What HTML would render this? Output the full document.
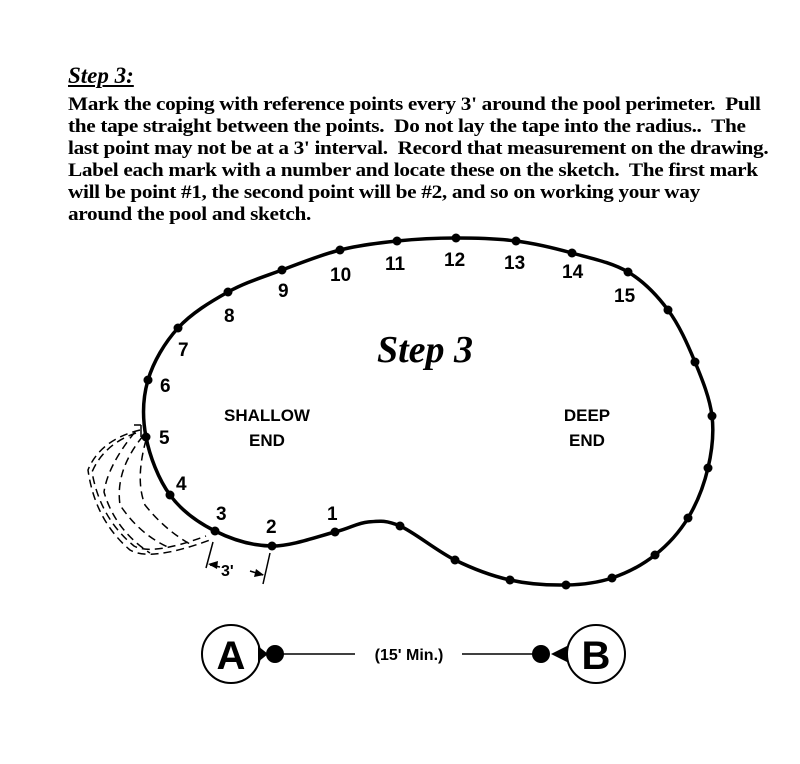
<!DOCTYPE html>
<html><head><style>
body{margin:0;background:#fff;width:800px;height:764px;overflow:hidden;position:relative;font-family:"Liberation Serif",serif}
.t{position:absolute;left:68px;top:94px;font-size:19px;line-height:22px;color:#000;font-weight:bold;letter-spacing:-0.3px;white-space:nowrap;transform:scaleX(1.12);transform-origin:0 0}
.h{position:absolute;left:68px;top:63px;font-size:23px;font-weight:bold;font-style:italic;text-decoration:underline}
</style></head><body>
<div class="h">Step 3:</div>
<div class="t">Mark the coping with reference points every 3' around the pool perimeter.&nbsp; Pull<br>the tape straight between the points.&nbsp; Do not lay the tape into the radius..&nbsp; The<br>last point may not be at a 3' interval.&nbsp; Record that measurement on the drawing.<br>Label each mark with a number and locate these on the sketch.&nbsp; The first mark<br>will be point #1, the second point will be #2, and so on working your way<br>around the pool and sketch.</div>
<svg width="800" height="764" style="position:absolute;left:0;top:0" font-family="Liberation Sans, sans-serif">
<path id="pool" fill="none" stroke="#000" stroke-width="3.5"/>
<g id="dots"></g>
<g fill="none" stroke="#000" stroke-width="1.5" stroke-dasharray="8,5">
<path d="M140 430 Q100 440 88 470 Q95 520 130 550 Q150 562 210 540"/>
<path d="M136 433 Q104 444 92 472 Q100 518 134 546 Q152 556 206 536"/>
<path d="M143 436 Q115 470 120 505 Q140 535 170 548"/>
<path d="M146 440 Q135 480 145 505 Q165 530 190 544"/>
<path d="M135 432 Q108 465 104 492 Q115 530 150 553"/>
</g>
<path d="M141 425 L141 437 M134 425 L141 425" stroke="#000" stroke-width="1.5" fill="none"/>
<g stroke="#000" stroke-width="1.5"><line x1="213" y1="542" x2="206" y2="568"/><line x1="270" y1="553" x2="263" y2="584"/>
<line x1="210" y1="565" x2="220" y2="567"/><line x1="250" y1="571" x2="263" y2="575"/></g>
<path d="M208 564 L218 561 L217 569Z M264 575 L254 577 L256 569Z" fill="#000"/>
<text x="221" y="576" font-size="16" font-weight="bold">3'</text>
<g font-size="19" font-weight="bold" fill="#000">
<text x="327" y="520">1</text><text x="266" y="533">2</text><text x="216" y="520">3</text><text x="176" y="490">4</text><text x="159" y="444">5</text><text x="160" y="392">6</text><text x="178" y="356">7</text><text x="224" y="322">8</text><text x="278" y="297">9</text><text x="330" y="281">10</text><text x="385" y="270">11</text><text x="444" y="266">12</text><text x="504" y="269">13</text><text x="562" y="278">14</text><text x="614" y="302">15</text>
</g>
<g font-size="17" font-weight="bold" fill="#000" text-anchor="middle"><text x="267" y="421">SHALLOW</text><text x="267" y="446">END</text><text x="587" y="421">DEEP</text><text x="587" y="446">END</text></g>
<text x="425" y="362" font-size="38" font-weight="bold" font-style="italic" text-anchor="middle" font-family="Liberation Serif, serif">Step 3</text>
<circle cx="231" cy="654" r="29" fill="none" stroke="#000" stroke-width="2"/>
<circle cx="596" cy="654" r="29" fill="none" stroke="#000" stroke-width="2"/>
<text x="231" y="669" font-size="40" font-weight="bold" text-anchor="middle">A</text>
<text x="596" y="669" font-size="40" font-weight="bold" text-anchor="middle">B</text>
<circle cx="275" cy="654" r="9"/><circle cx="541" cy="654" r="9"/>
<path d="M258 646 L268 654 L258 662Z M567 646 L551 654 L567 662Z"/>
<line x1="275" y1="654" x2="355" y2="654" stroke="#000" stroke-width="1.5"/>
<line x1="462" y1="654" x2="541" y2="654" stroke="#000" stroke-width="1.5"/>
<text x="409" y="660" font-size="16" font-weight="bold" text-anchor="middle">(15' Min.)</text>
</svg>
<script>
var P=[[335,532],[272,546],[215,531],[170,495],[146,437],[148,380],[178,328],[228,292],[282,270],[340,250],[397,241],[456,238],[516,241],[572,253],[628,272],[668,310],[695,362],[712,416],[708,468],[688,518],[655,555],[612,578],[566,585],[510,580],[455,560],[400,526],[368,522]];
var n=P.length,d="M"+P[0];
for(var i=0;i<n;i++){var p0=P[(i-1+n)%n],p1=P[i],p2=P[(i+1)%n],p3=P[(i+2)%n];
d+=" C"+(p1[0]+(p2[0]-p0[0])/6)+","+(p1[1]+(p2[1]-p0[1])/6)+" "+(p2[0]-(p3[0]-p1[0])/6)+","+(p2[1]-(p3[1]-p1[1])/6)+" "+p2;}
document.getElementById("pool").setAttribute("d",d+"Z");
var g="";for(var i=0;i<n-1;i++)g+='<circle cx="'+P[i][0]+'" cy="'+P[i][1]+'" r="4.5"/>';
document.getElementById("dots").innerHTML=g;
</script>
</body></html>
